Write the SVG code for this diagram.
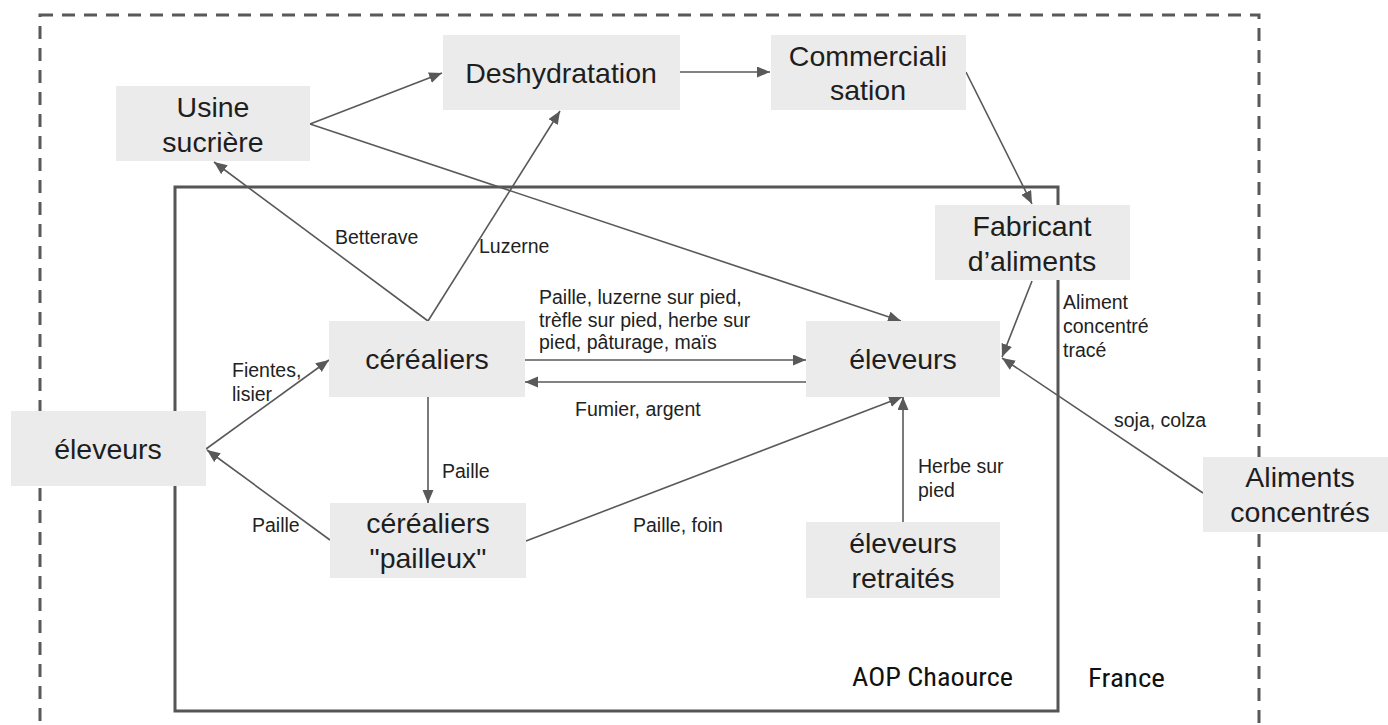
<svg xmlns="http://www.w3.org/2000/svg" width="1388" height="725" viewBox="0 0 1388 725">
<defs>
<marker id="arr" markerUnits="userSpaceOnUse" markerWidth="14" markerHeight="12" refX="13" refY="5.5" orient="auto">
<path d="M0,0 L13,5.5 L0,11 z" fill="#595959"/>
</marker>
<style>
.node rect{fill:#ebebeb;}
.node text{font-family:"Liberation Sans",Arial,sans-serif;font-size:28.5px;fill:#1e1e1e;text-anchor:middle;}
.edge{stroke:#595959;stroke-width:1.6;fill:none;marker-end:url(#arr);}
.lbl{font-family:"Liberation Sans",Arial,sans-serif;font-size:19.5px;fill:#222;}
.zone{font-family:"Liberation Sans Narrow","Roboto Condensed",Roboto,sans-serif;font-size:26px;fill:#111;}
</style>
</defs>
<rect x="40" y="15" width="1219" height="740" fill="none" stroke="#595959" stroke-width="3" stroke-dasharray="13 9"/>
<rect x="175" y="187" width="883" height="524" fill="none" stroke="#555" stroke-width="3"/>
<text class="zone" x="852" y="686" textLength="161" lengthAdjust="spacingAndGlyphs">AOP Chaource</text>
<text class="zone" x="1088" y="687" textLength="77" lengthAdjust="spacingAndGlyphs">France</text>
<g id="connectors">
<line class="edge" x1="310" y1="124" x2="442" y2="73"/>
<line class="edge" x1="310" y1="124" x2="901" y2="321"/>
<line class="edge" x1="428" y1="321" x2="214" y2="162"/>
<line class="edge" x1="428" y1="321" x2="560" y2="111"/>
<line class="edge" x1="680" y1="72" x2="770" y2="72"/>
<line class="edge" x1="966" y1="72" x2="1032" y2="204"/>
<line class="edge" x1="1032" y1="281" x2="1002" y2="357"/>
<line class="edge" x1="1203" y1="493" x2="1002" y2="358"/>
<line class="edge" x1="525" y1="360" x2="806" y2="360"/>
<line class="edge" x1="806" y1="382" x2="525" y2="382"/>
<line class="edge" x1="206" y1="449" x2="329" y2="360"/>
<line class="edge" x1="330" y1="540" x2="207" y2="450"/>
<line class="edge" x1="428" y1="397" x2="428" y2="503"/>
<line class="edge" x1="526" y1="541" x2="902" y2="397"/>
<line class="edge" x1="903" y1="522" x2="903" y2="397"/>
<text class="lbl" x="335" y="244">Betterave</text>
<text class="lbl" x="479" y="253">Luzerne</text>
<text class="lbl" x="539" y="304">Paille, luzerne sur pied,</text>
<text class="lbl" x="539" y="327">trèfle sur pied, herbe sur</text>
<text class="lbl" x="539" y="349">pied, pâturage, maïs</text>
<text class="lbl" x="575" y="416">Fumier, argent</text>
<text class="lbl" x="232" y="377">Fientes,</text>
<text class="lbl" x="232" y="401">lisier</text>
<text class="lbl" x="442" y="478">Paille</text>
<text class="lbl" x="252" y="532">Paille</text>
<text class="lbl" x="633" y="532">Paille, foin</text>
<text class="lbl" x="918" y="473">Herbe sur</text>
<text class="lbl" x="918" y="497">pied</text>
<text class="lbl" x="1114" y="427">soja, colza</text>
<text class="lbl" x="1063" y="309">Aliment</text>
<text class="lbl" x="1063" y="333">concentré</text>
<text class="lbl" x="1063" y="357">tracé</text>
</g>
<g id="usine" class="node"><rect x="116" y="86" width="194" height="75"/><text x="213" y="117">Usine</text><text x="213" y="152">sucrière</text></g>
<g id="deshydratation" class="node"><rect x="443" y="35" width="237" height="75"/><text x="561" y="83">Deshydratation</text></g>
<g id="commercialisation" class="node"><rect x="771" y="35" width="195" height="75"/><text x="868" y="66">Commerciali</text><text x="868" y="100">sation</text></g>
<g id="fabricant" class="node"><rect x="935" y="205" width="195" height="75"/><text x="1032" y="236">Fabricant</text><text x="1032" y="271">d’aliments</text></g>
<g id="cerealiers" class="node"><rect x="329" y="321" width="196" height="76"/><text x="427" y="369">céréaliers</text></g>
<g id="eleveurs-ext" class="node"><rect x="11" y="411" width="195" height="75"/><text x="108" y="459">éleveurs</text></g>
<g id="pailleux" class="node"><rect x="330" y="503" width="196" height="75"/><text x="428" y="533">céréaliers</text><text x="428" y="568">"pailleux"</text></g>
<g id="eleveurs" class="node"><rect x="806" y="321" width="194" height="76"/><text x="903" y="369">éleveurs</text></g>
<g id="retraites" class="node"><rect x="806" y="522" width="194" height="76"/><text x="903" y="553">éleveurs</text><text x="903" y="588">retraités</text></g>
<g id="aliments" class="node"><rect x="1203" y="457" width="195" height="75"/><text x="1300" y="487">Aliments</text><text x="1300" y="522">concentrés</text></g>
</svg>
